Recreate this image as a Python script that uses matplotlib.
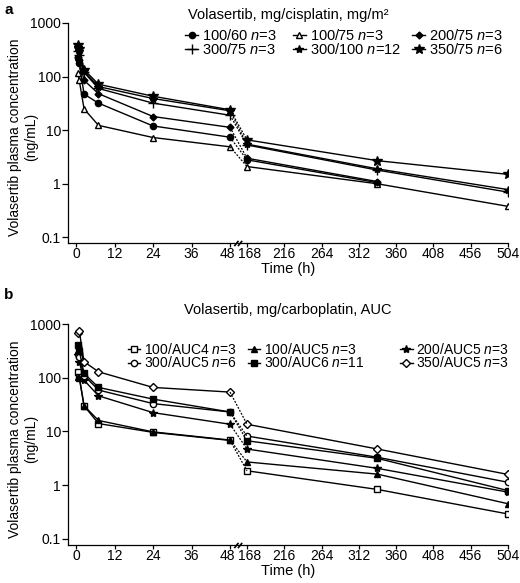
#!/usr/bin/env python

import numpy as np
import matplotlib
matplotlib.use("Agg")
import matplotlib.pyplot as plt
import matplotlib.transforms as mtrans
from matplotlib.lines import Line2D
from matplotlib.path import Path

plt.rcParams['font.family'] = ['Liberation Sans', 'DejaVu Sans']
plt.rcParams['mathtext.fontset'] = 'custom'
plt.rcParams['mathtext.rm'] = 'Liberation Sans'
plt.rcParams['mathtext.it'] = 'Liberation Sans:italic'

# sampling times (h)
times = [0.5, 1, 2.5, 7, 24, 48, 168, 336, 504]
xticks = [0, 12, 24, 36, 48, 168, 216, 264, 312, 360, 408, 456, 504]

# panel a: volasertib / cisplatin (ng/mL)
labels_a = ["100/60 $n$=3", "100/75 $n$=3", "200/75 $n$=3",
            "300/75 $n$=3", "300/100 $n$=12", "350/75 $n$=6"]
cis_100_60 = [220, 180, 47, 32, 12, 7.4, 2.8, 1.05, np.nan]
cis_100_75 = [117, 85, 25, 12.3, 7.3, 4.9, 2.1, 1.0, 0.38]
cis_200_75 = [230, 200, 85, 48, 18, 11.3, 3.0, 1.1, np.nan]
cis_300_75 = [300, 250, 120, 60, 32, 19, 5.3, 1.8, 0.7]
cis_300_100 = [350, 300, 125, 65, 39, 23, 5.5, 1.9, 0.78]
cis_350_75 = [380, 330, 135, 72, 43, 24, 6.6, 2.7, 1.5]

# panel b: volasertib / carboplatin (ng/mL)
labels_b = ["100/AUC4 $n$=3", "100/AUC5 $n$=3", "200/AUC5 $n$=3",
            "300/AUC5 $n$=6", "300/AUC6 $n$=11", "350/AUC5 $n$=3"]
carb_100_4 = [130, 105, 30, 14, 9.6, 6.8, 1.85, 0.83, 0.29]
carb_100_5 = [105, 100, 30, 16, 9.8, 6.9, 2.7, 1.6, 0.45]
carb_200_5 = [270, 200, 90, 46, 22.4, 13.6, 4.7, 2.05, 0.74]
carb_300_5 = [280, 240, 110, 59, 33, 23, 8.2, 3.3, 1.13]
carb_300_6 = [400, 320, 120, 66, 40, 23, 6.7, 3.15, 0.79]
carb_350_5 = [670, 750, 199, 129, 66, 54, 13.6, 4.7, 1.58]

# (marker, size, filled)
styles_a = [('o', 4.5, True), ('^', 4.5, False), ('D', 3.5, True),
            ('+', 7, True), ('*', 6, True), ('*', 7, True)]
styles_b = [('s', 4.5, False), ('^', 4.5, True), ('*', 6, True),
            ('o', 4.5, False), ('s', 4.5, True), ('D', 4, False)]

# broken time axis: 0-48 h wide, 168-504 h compressed
A = 154.0 / 48
GAP = 17.0
B = 261.0 / 336

# small double-slash used as the axis-break sign
BREAK = Path([(-1.6, -1), (0.0, 1), (-0.2, -1), (1.4, 1)],
             [Path.MOVETO, Path.LINETO, Path.MOVETO, Path.LINETO])


def fwd(t):
    t = np.asarray(t, dtype=float)
    return np.where(t <= 48, t * A,
                    np.where(t < 168, 48 * A + (t - 48) * GAP / 120,
                             48 * A + GAP + (t - 168) * B))


def inv(x):
    x = np.asarray(x, dtype=float)
    x1 = 48 * A
    x2 = 48 * A + GAP
    return np.where(x <= x1, x / A,
                    np.where(x < x2, 48 + (x - x1) * 120 / GAP,
                             168 + (x - x2) / B))


def draw_panel(fig, ax, series, labels, styles, title, ybot, tpad,
               leg_x, leg_y, leg_fs):
    t = np.array(times)
    early = t <= 48
    late = t >= 168
    handles = []
    for y, lab, (m, ms, filled) in zip(series, labels, styles):
        y = np.array(y, dtype=float)
        face = 'black' if filled else 'white'
        kw = dict(color='black', lw=1.0, marker=m, ms=ms, mfc=face,
                  mec='black', mew=1.0)
        ax.plot(t[early], y[early], **kw)
        ax.plot(t[late], y[late], **kw)
        ax.plot([48, 168], [y[t == 48][0], y[t == 168][0]],
                color='black', lw=0.9, ls=(0, (1.5, 1.2)))
        handles.append(Line2D([], [], label=lab, **kw))

    ax.set_xscale('function', functions=(fwd, inv))
    ax.set_yscale('log')
    ax.set_xlim(-2.5, 504)
    ax.set_ylim(ybot, 1000)
    ax.set_xticks(xticks)
    ax.set_xticklabels([str(v) for v in xticks])
    ax.set_yticks([0.1, 1, 10, 100, 1000])
    ax.set_yticklabels(['0.1', '1', '10', '100', '1000'])
    ax.minorticks_off()
    ax.tick_params(labelsize=10, width=0.9)
    ax.tick_params(axis='x', length=3, pad=0)
    ax.tick_params(axis='y', length=4, pad=1)
    for s in ['top', 'right']:
        ax.spines[s].set_visible(False)
    for s in ['left', 'bottom']:
        ax.spines[s].set_linewidth(0.9)

    # nudge the two labels either side of the break apart, as in the original
    fig.canvas.draw()
    for lab in ax.get_xticklabels():
        if lab.get_text() == '48':
            lab.set_transform(lab.get_transform() + mtrans.ScaledTranslation(
                -3 / 100, 0, fig.dpi_scale_trans))
        elif lab.get_text() == '168':
            lab.set_transform(lab.get_transform() + mtrans.ScaledTranslation(
                3 / 100, 0, fig.dpi_scale_trans))

    ax.set_xlabel('Time (h)', fontsize=10.5, labelpad=0.5)
    ax.set_ylabel('Volasertib plasma concentration\n(ng/mL)', fontsize=10)
    ax.yaxis.set_label_coords(-0.068, 0.48)
    ax.set_title(title, fontsize=10.5, pad=tpad)
    ax.plot([108], [0], marker=BREAK, ms=6, mew=1.2, color='black',
            transform=ax.get_xaxis_transform(), clip_on=False)

    # one small legend per column, placed like the original key
    for c in range(3):
        leg = ax.legend(handles=[handles[c], handles[c + 3]],
                        frameon=False, loc='center left',
                        bbox_to_anchor=(leg_x[c], leg_y), borderaxespad=0,
                        borderpad=0, fontsize=leg_fs, handlelength=0.9,
                        handletextpad=0.25, labelspacing=-0.1)
        if c < 2:
            ax.add_artist(leg)


fig = plt.figure(figsize=(5.2, 5.83), dpi=100)
ax_a = fig.add_axes([0.1308, 0.5832, 0.846, 0.3774])
ax_b = fig.add_axes([0.1308, 0.0652, 0.846, 0.3790])

draw_panel(fig, ax_a, [cis_100_60, cis_100_75, cis_200_75, cis_300_75,
                       cis_300_100, cis_350_75],
           labels_a, styles_a, 'Volasertib, mg/cisplatin, mg/m²', 0.0787, 3,
           [0.266, 0.511, 0.782], 0.911, 10.5)
draw_panel(fig, ax_b, [carb_100_4, carb_100_5, carb_200_5, carb_300_5,
                       carb_300_6, carb_350_5],
           labels_b, styles_b, 'Volasertib, mg/carboplatin, AUC', 0.0767, 7,
           [0.136, 0.409, 0.755], 0.855, 10)

fig.text(0.008, 0.995, 'a', fontsize=11, fontweight='bold', va='top')
fig.text(0.008, 0.506, 'b', fontsize=11, fontweight='bold', va='top')

fig.savefig('out.png', dpi=100)
